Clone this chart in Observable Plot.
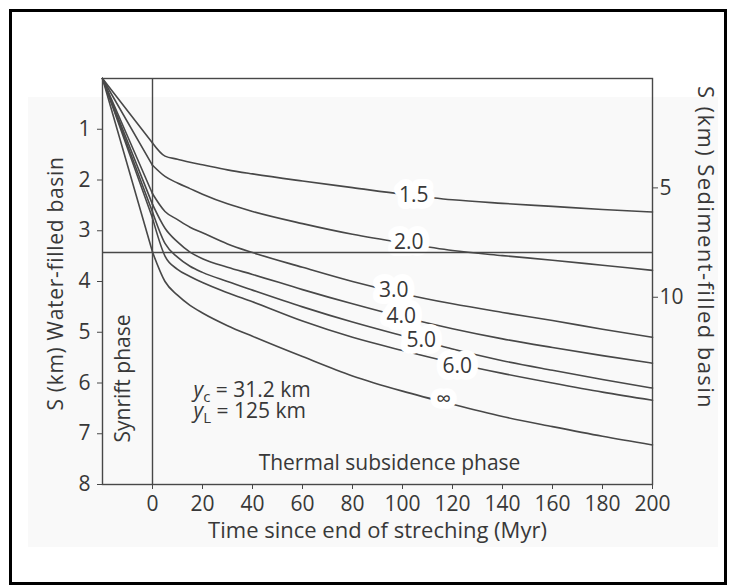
<!DOCTYPE html>
<html>
<head>
<meta charset="utf-8">
<script src="https://cdn.jsdelivr.net/npm/d3@7"></script>
<script src="https://cdn.jsdelivr.net/npm/@observablehq/plot@0.6"></script>
<style>
  html, body { margin: 0; padding: 0; background: #ffffff; }
  #wrap { position: relative; width: 729px; height: 587px; overflow: hidden; background: #ffffff; }
  #panel { position: absolute; left: 28px; top: 97px; width: 690px; height: 450px; background: #f9f9f9; }
  #border { position: absolute; left: 9px; top: 9px; width: 718px; height: 576px; border: 3px solid #000; box-sizing: border-box; }
  #chart { position: absolute; left: 0; top: 0; }
</style>
</head>
<body>
<div id="wrap">
  <div id="panel"></div>
  <div id="chart"></div>
  <div id="border"></div>
</div>
<script>
// ---- data ----
const times = [-20, 0, 5, 10, 15, 20, 30, 40, 60, 80, 100, 120, 140, 160, 180, 200];
const curveNames = ["1.5", "2.0", "3.0", "4.0", "5.0", "6.0", "∞"];
const sBeta15  = [0, 1.27, 1.53, 1.59, 1.65, 1.70, 1.80, 1.88, 2.02, 2.15, 2.28, 2.39, 2.46, 2.52, 2.58, 2.63];
const sBeta20  = [0, 1.71, 1.93, 2.06, 2.17, 2.28, 2.47, 2.62, 2.86, 3.07, 3.24, 3.39, 3.49, 3.58, 3.68, 3.78];
const sBeta30  = [0, 2.27, 2.62, 2.78, 2.93, 3.04, 3.26, 3.43, 3.72, 4.00, 4.24, 4.44, 4.61, 4.77, 4.94, 5.10];
const sBeta40  = [0, 2.48, 2.95, 3.22, 3.42, 3.55, 3.72, 3.86, 4.16, 4.44, 4.70, 4.93, 5.13, 5.30, 5.46, 5.61];
const sBeta50  = [0, 2.63, 3.25, 3.52, 3.70, 3.82, 4.00, 4.17, 4.50, 4.80, 5.07, 5.33, 5.56, 5.75, 5.93, 6.10];
const sBeta60  = [0, 2.75, 3.50, 3.76, 3.90, 4.02, 4.22, 4.40, 4.78, 5.10, 5.36, 5.60, 5.81, 6.00, 6.18, 6.34];
const sBetaInf = [0, 3.42, 4.00, 4.27, 4.47, 4.62, 4.87, 5.08, 5.48, 5.86, 6.16, 6.42, 6.66, 6.86, 7.05, 7.22];
const labelTimes  = [104.5, 102.5, 96.5, 99.5, 107.5, 121.9, 116.5];
const labelDepths = [2.31, 3.23, 4.18, 4.69, 5.15, 5.67, 6.33];
const synriftEnd = 0;
const synriftMaxS = 3.43;
const xTicks = [0, 20, 40, 60, 80, 100, 120, 140, 160, 180, 200];
const yTicks = [1, 2, 3, 4, 5, 6, 7, 8];
const sedimentTicks = [5, 10];
const sedimentFactor = 2.32;
const paramSubs = ["c", "L"];
const paramValues = [" = 31.2 km", " = 125 km"];
const xTitle = "Time since end of streching (Myr)";
const yTitle = "S (km) Water-filled basin";
const y2Title = "S (km) Sediment-filled basin";
const synriftLabel = "Synrift phase";
const thermalLabel = "Thermal subsidence phase";

// ---- build tables ----
const curveValues = [sBeta15, sBeta20, sBeta30, sBeta40, sBeta50, sBeta60, sBetaInf];
const rows = curveNames.flatMap((name, i) => times.map((t, j) => ({name, t, s: curveValues[i][j]})));
const labels = curveNames.map((name, i) => ({name, t: labelTimes[i], s: labelDepths[i]}));

const lineColor = "#484848";
const textColor = "#383838";
const font = "'Open Sans', 'Noto Sans', sans-serif";
const fs = 21;

const chart = Plot.plot({
  width: 729,
  height: 587,
  marginLeft: 102,
  marginRight: 77,
  marginTop: 78,
  marginBottom: 103,
  style: {background: "transparent", fontFamily: font, fontSize: fs + "px", color: textColor},
  x: {domain: [-20, 200]},
  y: {domain: [0, 8], reverse: true},
  marks: [
    Plot.line(rows.filter(d => d.t <= synriftEnd), {x: "t", y: "s", z: "name", stroke: lineColor, strokeWidth: 1.6}),
    Plot.line(rows.filter(d => d.t >= synriftEnd), {x: "t", y: "s", z: "name", curve: "monotone-x", stroke: lineColor, strokeWidth: 1.6}),
    Plot.text(labels, {x: "t", y: "s", text: "name", fill: textColor, stroke: "white", strokeWidth: 14, fontSize: fs, lineAnchor: "middle"}),
    Plot.ruleX([synriftEnd], {stroke: lineColor, strokeWidth: 1.4}),
    Plot.ruleY([synriftMaxS], {stroke: lineColor, strokeWidth: 1.4}),
    Plot.frame({stroke: lineColor, strokeWidth: 1.4}),
    Plot.axisX(xTicks, {anchor: "bottom", tickSize: 5, tickPadding: 7, label: null, tickFormat: d => String(d),
      stroke: lineColor, fill: textColor, fontSize: fs}),
    Plot.axisY(yTicks, {anchor: "left", tickSize: 5, tickPadding: 7, label: null, tickFormat: d => String(d),
      stroke: lineColor, fill: textColor, fontSize: fs}),
    Plot.axisY(sedimentTicks.map(v => v / sedimentFactor), {anchor: "right", tickSize: 5, tickPadding: 2, label: null,
      tickFormat: d => String(Math.round(d * sedimentFactor)), stroke: lineColor, fill: textColor, fontSize: fs}),
    Plot.text([xTitle], {frameAnchor: "bottom", dy: 46, lineAnchor: "middle", textAnchor: "middle", fill: textColor, fontSize: 22}),
    Plot.text([yTitle], {frameAnchor: "left", dx: -46, dy: 2, rotate: -90, lineAnchor: "middle", textAnchor: "middle", fill: textColor, fontSize: fs}),
    Plot.text([y2Title], {frameAnchor: "right", dx: 53, dy: -34, rotate: 90, lineAnchor: "middle", textAnchor: "middle", fill: textColor, fontSize: 22}),
    Plot.text([synriftLabel], {frameAnchor: "bottom-left", dx: 21, dy: -106, rotate: -90, lineAnchor: "middle", textAnchor: "middle", fill: textColor, fontSize: fs}),
    Plot.text([thermalLabel], {frameAnchor: "bottom", dx: 12, dy: -21, lineAnchor: "middle", textAnchor: "middle", fill: textColor, fontSize: fs}),
    Plot.text(["y_" + paramSubs[0] + paramValues[0]], {frameAnchor: "bottom-left", dx: 91, dy: -94, lineAnchor: "middle", textAnchor: "start", fill: textColor, fontSize: fs}),
    Plot.text(["y_" + paramSubs[1] + paramValues[1]], {frameAnchor: "bottom-left", dx: 91, dy: -73, lineAnchor: "middle", textAnchor: "start", fill: textColor, fontSize: fs})
  ]
});

// subscripts for y_c and y_L; spacing tweaks for the axis titles
const ns = "http://www.w3.org/2000/svg";
chart.querySelectorAll("text").forEach(t => {
  if (t.textContent === yTitle) t.style.letterSpacing = "0.7px";
  if (t.textContent === y2Title) t.style.letterSpacing = "1.4px";
  const m = t.textContent.match(/^y_(\w)(.*)$/);
  if (!m) return;
  t.textContent = "";
  const a = document.createElementNS(ns, "tspan");
  a.textContent = "y"; a.setAttribute("font-style", "italic");
  const b = document.createElementNS(ns, "tspan");
  b.textContent = m[1]; b.setAttribute("dy", "5"); b.setAttribute("font-size", "15");
  const c = document.createElementNS(ns, "tspan");
  c.textContent = m[2]; c.setAttribute("dy", "-5");
  t.append(a, b, c);
});

document.getElementById("chart").appendChild(chart);
</script>
</body>
</html>
